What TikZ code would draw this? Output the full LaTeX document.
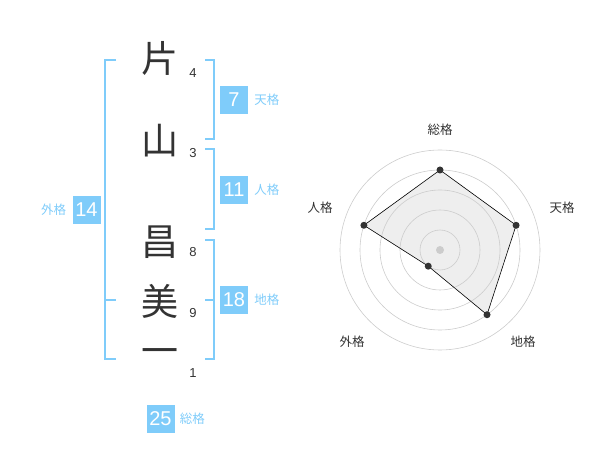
\documentclass[tikz,border=0pt]{standalone}
\usepackage{fontspec}
\setmainfont{Liberation Sans}
\newfontfamily\jp{Noto Sans CJK JP}
\usetikzlibrary{positioning}
\definecolor{kaku}{RGB}{127,204,250}
\definecolor{ink}{RGB}{51,51,51}
\tikzset{
  kanji/.style={font=\jp\fontsize{37}{37}\selectfont, text=ink, inner sep=0pt},
  kakubox/.style={fill=kaku, text=white, minimum size=28pt, inner sep=0pt, font=\fontsize{20}{20}\selectfont},
  kakulabel/.style={text=kaku, font=\jp\fontsize{12.5}{12.5}\selectfont, inner sep=0pt},
  strokes/.style={text=ink, font=\fontsize{13}{13}\selectfont, inner sep=0pt},
  bracket/.style={draw=kaku, line width=2pt},
  radarlabel/.style={text=ink, font=\jp\fontsize{12.5}{12.5}\selectfont, inner sep=0pt},
  ring/.style={draw=gray!40, line width=0.6pt},
  dot/.style={fill=ink}
}
\begin{document}
\begin{tikzpicture}[x=1pt,y=-1pt]
\useasboundingbox (0,0) rectangle (600,470);
% name
\node[kanji] (k1) at (160,58) {片};
\node[kanji] (k2) at (160,141) {山};
\node[kanji] (k3) at (160,242) {昌};
\node[kanji] (k4) at (160,301) {美};
\node[kanji] (k5) at (160,357) {一};
%
\node[strokes] (s1) at (193,73) {4};
\node[strokes] (s2) at (193,153) {3};
\node[strokes] (s3) at (193,252) {8};
\node[strokes] (s4) at (193,313) {9};
\node[strokes] (s5) at (193,373) {1};
% brackets
\draw[bracket](116,60)--(105,60)--(105,359)--(116,359);
\draw[bracket](105,300)--(116,300);
\draw[bracket](205,60)--(214,60)--(214,139)--(205,139);
\draw[bracket](205,149)--(214,149)--(214,229)--(205,229);
\draw[bracket](205,240)--(214,240)--(214,359)--(205,359);
\draw[bracket](205,300)--(214,300);
% kaku
\node[kakubox] (ten) at (234,100) {7};
\node[kakulabel,right=6pt of ten] (tenl) {天格};
\node[kakubox] (jin) at (234,190) {11};
\node[kakulabel,right=6pt of jin] (jinl) {人格};
\node[kakubox] (chi) at (234,300) {18};
\node[kakulabel,right=6pt of chi] (chil) {地格};
\node[kakubox] (gai) at (86.5,210) {14};
\node[kakulabel,left=6pt of gai] (gail) {外格};
\node[kakubox] (sou) at (160.5,419) {25};
\node[kakulabel,right=5pt of sou] (soul) {総格};
% radar
\begin{scope}[shift={(440,250)},yscale=-1]
\foreach \name/\ang/\r in {rsou/90/80,rten/18/80,rchi/-54/80,rgai/-126/20,rjin/162/80}
  \coordinate (\name) at (\ang:\r);
\fill[gray!13](rsou)--(rten)--(rchi)--(rgai)--(rjin)--cycle;
\foreach \r in {20,40,...,100}
  \draw[ring](0,0) circle (\r);
\draw[black,line width=0.6pt](rsou)--(rten)--(rchi)--(rgai)--(rjin)--cycle;
\fill[gray!40](0,0) circle (4);
\foreach \name in {rsou,rten,rchi,rgai,rjin}
  \fill[dot](\name) circle (3.5);
\node[radarlabel] (lsou) at (0,120) {総格};
\node[radarlabel] (lten) at (122,42) {天格};
\node[radarlabel] (lchi) at (83,-92) {地格};
\node[radarlabel] (lgai) at (-88,-92) {外格};
\node[radarlabel] (ljin) at (-120,42) {人格};
\end{scope}
\end{tikzpicture}
\end{document}
